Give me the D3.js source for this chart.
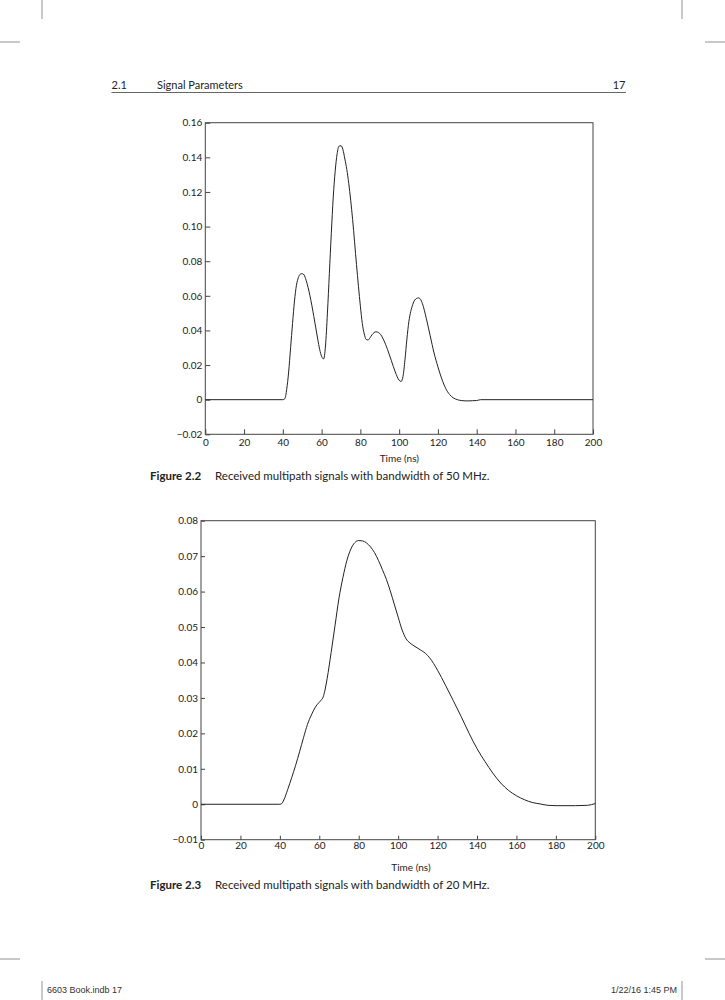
<!DOCTYPE html>
<html>
<head>
<meta charset="utf-8">
<script src="https://cdn.jsdelivr.net/npm/d3@7"></script>
<style>
  body { margin: 0; background: #fff; }
  svg { display: block; }
  text { font-family: Lato, "Open Sans", sans-serif; fill: #222; }
  .tick text { font-size: 10px; font-family: Lato, "Open Sans", sans-serif; fill: #222; }
  .tick line { stroke: #444; }
  .frame { fill: none; stroke: #444; stroke-width: 1; }
  .signal { fill: none; stroke: #222; stroke-width: 1; }
  .crop { stroke: #777; stroke-width: 0.8; }
  .footer { font-family: "Liberation Sans", Arial, sans-serif; font-size: 9px; fill: #333; }
</style>
</head>
<body>
<svg id="page" width="725" height="1000"></svg>
<script>
// figure 2.2 - 50 MHz bandwidth
const time1 = [0, 40, 41, 42, 43, 44, 45, 46, 47, 48, 49, 50, 51, 52, 54, 56, 58, 59, 60, 61, 62, 63, 64, 65, 66, 67, 68, 69, 70, 71, 72, 73, 74, 76, 78, 80, 81, 82, 83, 84, 85, 86, 88, 90, 92, 94, 96, 98, 100, 101, 102, 103, 104, 105, 106, 107, 108, 109, 110, 111, 112, 114, 116, 118, 120, 122, 124, 126, 128, 130, 132, 134, 136, 138, 140, 142, 200];
const signal1 = [0, 0, 0.0005, 0.006, 0.016, 0.030, 0.044, 0.057, 0.066, 0.0705, 0.0725, 0.0728, 0.072, 0.069, 0.060, 0.048, 0.035, 0.029, 0.025, 0.0235, 0.031, 0.050, 0.073, 0.096, 0.117, 0.132, 0.142, 0.1465, 0.1467, 0.1445, 0.139, 0.133, 0.125, 0.104, 0.078, 0.054, 0.044, 0.038, 0.0348, 0.0345, 0.0358, 0.0375, 0.0392, 0.0382, 0.0345, 0.029, 0.0225, 0.016, 0.0112, 0.0105, 0.0135, 0.023, 0.035, 0.045, 0.051, 0.055, 0.0575, 0.0585, 0.0588, 0.058, 0.0555, 0.047, 0.037, 0.027, 0.019, 0.012, 0.0065, 0.003, 0.001, 0.0, -0.0005, -0.0007, -0.0007, -0.0006, -0.0005, 0, 0];

// figure 2.3 - 20 MHz bandwidth
const time2 = [0, 40, 41, 42, 44, 46, 48, 50, 52, 54, 56, 58, 60, 61, 62, 63, 64, 66, 68, 70, 72, 74, 76, 78, 80, 82, 84, 86, 88, 90, 92, 94, 96, 98, 100, 102, 104, 106, 108, 110, 112, 114, 116, 118, 120, 124, 128, 132, 136, 140, 144, 148, 152, 156, 160, 164, 168, 172, 176, 180, 190, 196, 200];
const signal2 = [0, 0, 0.0002, 0.0012, 0.0042, 0.0075, 0.011, 0.0148, 0.0188, 0.0225, 0.0252, 0.0274, 0.0288, 0.0294, 0.0303, 0.0325, 0.0355, 0.0428, 0.0505, 0.0582, 0.0640, 0.0688, 0.0720, 0.0738, 0.0744, 0.0743, 0.0737, 0.0726, 0.0710, 0.0688, 0.0662, 0.0635, 0.0602, 0.0565, 0.0528, 0.0492, 0.0467, 0.0455, 0.0447, 0.0440, 0.0433, 0.0425, 0.0413, 0.0397, 0.0378, 0.0336, 0.0292, 0.0247, 0.0200, 0.0157, 0.0121, 0.0088, 0.0060, 0.0039, 0.0024, 0.0013, 0.0005, 0.0001, -0.0003, -0.0004, -0.0004, -0.0003, 0.0002];

// ticks
const xTicks = [0, 20, 40, 60, 80, 100, 120, 140, 160, 180, 200];
const yTicks1 = [-0.02, 0, 0.02, 0.04, 0.06, 0.08, 0.10, 0.12, 0.14, 0.16];
const yTicks2 = [-0.01, 0, 0.01, 0.02, 0.03, 0.04, 0.05, 0.06, 0.07, 0.08];

const xLabel = "Time (ns)";
const captions = [
    { num: "Figure 2.2", text: "Received multipath signals with bandwidth of 50 MHz." },
    { num: "Figure 2.3", text: "Received multipath signals with bandwidth of 20 MHz." }
];

const svg = d3.select("#page");
const fmt = d => d === 0 ? "0" : d3.format(".2f")(d);

// page furniture: crop marks, running head, footer
const crops = [
    [42, 0, 42, 19], [682, 0, 682, 19], [0, 42, 20, 42], [705, 42, 725, 42],
    [42, 981, 42, 1000], [682, 981, 682, 1000], [0, 959, 20, 959], [705, 959, 725, 959]
];
svg.selectAll("line.crop")
    .data(crops)
    .enter()
    .append("line")
    .classed("crop", true)
    .attr("x1", d => d[0]).attr("y1", d => d[1])
    .attr("x2", d => d[2]).attr("y2", d => d[3]);

svg.append("text").attr("x", 111.5).attr("y", 89).style("font-size", "11px").text("2.1");
svg.append("text").attr("x", 157).attr("y", 89).style("font-size", "11px").text("Signal Parameters");
svg.append("text").attr("x", 625.5).attr("y", 89).style("font-size", "11px").style("text-anchor", "end").text("17");
svg.append("line").attr("x1", 111.5).attr("x2", 626).attr("y1", 92.5).attr("y2", 92.5)
    .style("stroke", "#666").style("stroke-width", 1.2);

svg.append("text").classed("footer", true).attr("x", 47).attr("y", 993).text("6603 Book.indb   17");
svg.append("text").classed("footer", true).attr("x", 677).attr("y", 993).style("text-anchor", "end").text("1/22/16   1:45 PM");

// one framed plot
function drawChart(o) {
    const x = d3.scaleLinear().domain([0, 200]).range([o.left, o.right]),
          y = d3.scaleLinear().domain([o.yTicks[0], o.yTicks[o.yTicks.length - 1]]).range([o.bottom, o.top]);

    const g = svg.append("g");

    g.append("g")
        .attr("transform", `translate(0, ${o.bottom})`)
        .call(d3.axisBottom(x).tickValues(xTicks).tickFormat(d3.format("d"))
            .tickSizeInner(-o.tick).tickSizeOuter(0).tickPadding(o.xPad))
        .call(a => a.select(".domain").remove());

    g.append("g")
        .attr("transform", `translate(${o.left}, 0)`)
        .call(d3.axisLeft(y).tickValues(o.yTicks).tickFormat(fmt)
            .tickSizeInner(-o.tick).tickSizeOuter(0).tickPadding(3))
        .call(a => a.select(".domain").remove());

    g.append("rect")
        .classed("frame", true)
        .attr("x", o.left).attr("y", o.top)
        .attr("width", o.right - o.left).attr("height", o.bottom - o.top);

    const pts = o.time.map((t, i) => [t, o.signal[i]]);
    g.append("path")
        .classed("signal", true)
        .attr("d", d3.line().x(d => x(d[0])).y(d => y(d[1])).curve(d3.curveMonotoneX)(pts));

    g.append("text")
        .attr("x", o.titleX).attr("y", o.titleY)
        .style("font-size", "10px").style("text-anchor", "middle")
        .text(xLabel);

    const cap = g.append("text").attr("y", o.capY).style("font-size", "11.5px");
    cap.append("tspan").attr("x", 150).style("font-weight", "bold").text(o.caption.num);
    cap.append("tspan").attr("x", 215).text(o.caption.text);
}

drawChart({ left: 205.3, right: 593, top: 122.7, bottom: 434.3, tick: 5, xPad: 5,
            yTicks: yTicks1, time: time1, signal: signal1,
            titleX: 399.3, titleY: 462, capY: 479.5, caption: captions[0] });

drawChart({ left: 201, right: 595.3, top: 520.7, bottom: 839.7, tick: 4, xPad: 2.5,
            yTicks: yTicks2, time: time2, signal: signal2,
            titleX: 411, titleY: 871, capY: 889.3, caption: captions[1] });
</script>
</body>
</html>
